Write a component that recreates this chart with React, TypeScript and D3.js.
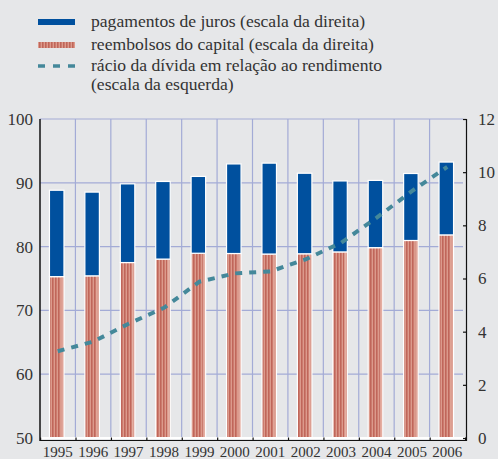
import { useRef, useEffect } from "react";
import * as d3 from "d3";

const years = ["1995", "1996", "1997", "1998", "1999", "2000", "2001", "2002", "2003", "2004", "2005", "2006"];
// right scale
const capital = [6.07, 6.1, 6.6, 6.73, 6.95, 6.94, 6.92, 6.93, 7.0, 7.16, 7.43, 7.64];
const interest = [3.25, 3.15, 2.96, 2.92, 2.89, 3.37, 3.42, 3.03, 2.67, 2.53, 2.52, 2.74];
// left scale
const debtRatio = [63.6, 65.1, 67.9, 70.4, 74.5, 75.8, 76.1, 78.0, 80.6, 84.5, 88.7, 92.5];

const leftTicks = [50, 60, 70, 80, 90, 100];
const rightTicks = [0, 2, 4, 6, 8, 10, 12];

const legendItems = [
  { key: "juros", label: ["pagamentos de juros (escala da direita)"] },
  { key: "capital", label: ["reembolsos do capital (escala da direita)"] },
  { key: "ratio", label: ["rácio da dívida em relação ao rendimento", "(escala da esquerda)"] },
];

const COLORS = {
  bg: "#e6e7e9",
  blue: "#00509e",
  redDark: "#c0665a",
  redLight: "#dc9a8c",
  redEdge: "#e8b6aa",
  line: "#44889a",
  grid: "#a3abd6",
  axis: "#111",
  text: "#333",
};

const FONT = "Liberation Serif, Tinos, Times New Roman, DejaVu Serif, serif";

export default function App() {
  const svgRef = useRef<SVGSVGElement>(null);
  const width = 498;
  const height = 459;

  useEffect(() => {
    if (!svgRef.current) return;
    const svg = d3.select(svgRef.current);
    svg.selectAll("*").remove();

    const margin = { top: 119, right: 33, bottom: 21, left: 40 };
    const w = width - margin.left - margin.right;
    const h = height - margin.top - margin.bottom;

    svg.append("rect").attr("width", width).attr("height", height).attr("fill", COLORS.bg);

    const defs = svg.append("defs");
    const pat = defs
      .append("pattern")
      .attr("id", "stripes")
      .attr("patternUnits", "userSpaceOnUse")
      .attr("width", 3)
      .attr("height", 10);
    pat.append("rect").attr("width", 3).attr("height", 10).attr("fill", COLORS.redLight);
    pat.append("rect").attr("width", 1.6).attr("height", 10).attr("fill", COLORS.redDark);

    const g = svg.append("g").attr("transform", `translate(${margin.left},${margin.top})`);

    const x = d3.scaleBand<string>().domain(years).range([0, w]).paddingInner(0).paddingOuter(0);
    const yL = d3.scaleLinear().domain([50, 100]).range([h, 0]);
    const yR = d3.scaleLinear().domain([0, 12]).range([h, 0]);
    const barW = x.bandwidth() * 0.41;

    // Grid
    g.append("g")
      .selectAll("line")
      .data(leftTicks.filter((t) => t > 50))
      .enter()
      .append("line")
      .attr("x1", 0)
      .attr("x2", w - 2)
      .attr("y1", (d) => yL(d))
      .attr("y2", (d) => yL(d))
      .attr("stroke", COLORS.grid)
      .attr("stroke-width", 1.2);

    g.append("g")
      .selectAll("line")
      .data(years.slice(1))
      .enter()
      .append("line")
      .attr("x1", (d) => x(d)!)
      .attr("x2", (d) => x(d)!)
      .attr("y1", 0)
      .attr("y2", h)
      .attr("stroke", COLORS.grid)
      .attr("stroke-width", 1.2);

    // Bars
    const rows = years.map((yr, i) => ({ year: yr, capital: capital[i], interest: interest[i] }));
    const stacked = d3.stack<(typeof rows)[0]>().keys(["capital", "interest"])(rows);
    const bx = (yr: string) => x(yr)! + (x.bandwidth() - barW) / 2 - 1;

    stacked.forEach((layer) => {
      const lg = g.append("g");
      lg.selectAll("rect")
        .data(layer)
        .enter()
        .append("rect")
        .attr("x", (d) => bx(d.data.year))
        .attr("y", (d) => yR(d[1]))
        .attr("width", barW)
        .attr("height", (d) => yR(d[0]) - yR(d[1]))
        .attr("fill", layer.key === "capital" ? "url(#stripes)" : COLORS.blue)
        .attr("stroke", "#fff")
        .attr("stroke-width", 1.2);
      if (layer.key === "capital") {
        lg.selectAll("rect.edge")
          .data(layer)
          .enter()
          .append("rect")
          .attr("class", "edge")
          .attr("x", (d) => bx(d.data.year) + barW - 3)
          .attr("y", (d) => yR(d[1]) + 0.6)
          .attr("width", 2.4)
          .attr("height", (d) => yR(d[0]) - yR(d[1]) - 1.2)
          .attr("fill", COLORS.redEdge)
          .attr("opacity", 0.7);
      }
    });

    // Line
    const line = d3
      .line<number>()
      .x((_, i) => x(years[i])! + x.bandwidth() / 2)
      .y((d) => yL(d));

    g.append("path")
      .datum(debtRatio)
      .attr("fill", "none")
      .attr("stroke", COLORS.line)
      .attr("stroke-width", 4)
      .attr("stroke-dasharray", "7,7")
      .attr("d", line);

    // Bottom white base + bracket axis
    g.append("line")
      .attr("x1", 0)
      .attr("x2", w)
      .attr("y1", h)
      .attr("y2", h)
      .attr("stroke", "#fff")
      .attr("stroke-width", 2);

    g.append("line")
      .attr("x1", 0)
      .attr("x2", w + 1)
      .attr("y1", h + 2.5)
      .attr("y2", h + 2.5)
      .attr("stroke", COLORS.axis)
      .attr("stroke-width", 1.2);

    g.append("g")
      .selectAll("line")
      .data([...years.map((d) => x(d)!), w])
      .enter()
      .append("line")
      .attr("x1", (d) => d + 0.6)
      .attr("x2", (d) => d + 0.6)
      .attr("y1", h - 0.5)
      .attr("y2", h + 3)
      .attr("stroke", COLORS.axis)
      .attr("stroke-width", 1.2);

    g.append("g")
      .selectAll("text")
      .data(years)
      .enter()
      .append("text")
      .attr("x", (d) => x(d)! + x.bandwidth() / 2)
      .attr("y", h + 19)
      .attr("text-anchor", "middle")
      .attr("font-family", FONT)
      .attr("font-size", 15)
      .attr("fill", COLORS.text)
      .text((d) => d);

    // Left axis
    g.append("line")
      .attr("x1", 0)
      .attr("x2", 0)
      .attr("y1", 0)
      .attr("y2", h + 3)
      .attr("stroke", COLORS.axis)
      .attr("stroke-width", 1.5);

    g.append("g")
      .selectAll("text")
      .data(leftTicks)
      .enter()
      .append("text")
      .attr("x", -7)
      .attr("y", (d) => yL(d))
      .attr("dy", "0.35em")
      .attr("text-anchor", "end")
      .attr("font-family", FONT)
      .attr("font-size", 17)
      .attr("fill", COLORS.text)
      .text((d) => d);

    // Right axis
    g.append("line")
      .attr("x1", w + 1.5)
      .attr("x2", w + 1.5)
      .attr("y1", 0)
      .attr("y2", h + 3)
      .attr("stroke", COLORS.axis)
      .attr("stroke-width", 1.2);

    g.append("g")
      .selectAll("line")
      .data(rightTicks)
      .enter()
      .append("line")
      .attr("x1", w - 2)
      .attr("x2", w + 1.5)
      .attr("y1", (d) => yR(d) + 0.5)
      .attr("y2", (d) => yR(d) + 0.5)
      .attr("stroke", COLORS.axis)
      .attr("stroke-width", 1.2);

    g.append("g")
      .selectAll("text")
      .data(rightTicks)
      .enter()
      .append("text")
      .attr("x", w + 13)
      .attr("y", (d) => yR(d))
      .attr("dy", "0.35em")
      .attr("font-family", FONT)
      .attr("font-size", 17)
      .attr("fill", COLORS.text)
      .text((d) => d);

    // Legend
    const leg = svg.append("g");
    const rowY = [22, 45, 66];
    legendItems.forEach((item, i) => {
      const cy = rowY[i];
      if (item.key === "juros") {
        leg.append("rect").attr("x", 38).attr("y", cy - 3).attr("width", 37).attr("height", 6).attr("fill", COLORS.blue);
      } else if (item.key === "capital") {
        leg.append("rect").attr("x", 38).attr("y", cy - 3).attr("width", 37).attr("height", 6).attr("fill", "url(#stripes)");
      } else {
        leg.append("line")
          .attr("x1", 38)
          .attr("x2", 76)
          .attr("y1", cy)
          .attr("y2", cy)
          .attr("stroke", COLORS.line)
          .attr("stroke-width", 3.5)
          .attr("stroke-dasharray", "7,8");
      }
      item.label.forEach((t, j) => {
        leg.append("text")
          .attr("x", 91)
          .attr("y", cy + 5 + j * 19)
          .attr("font-family", FONT)
          .attr("font-size", 17.6)
          .attr("fill", COLORS.text)
          .text(t);
      });
    });
  }, []);

  return (
    <svg
      ref={svgRef}
      width={width}
      height={height}
      style={{ position: "absolute", left: 0, top: 0, display: "block" }}
    />
  );
}
